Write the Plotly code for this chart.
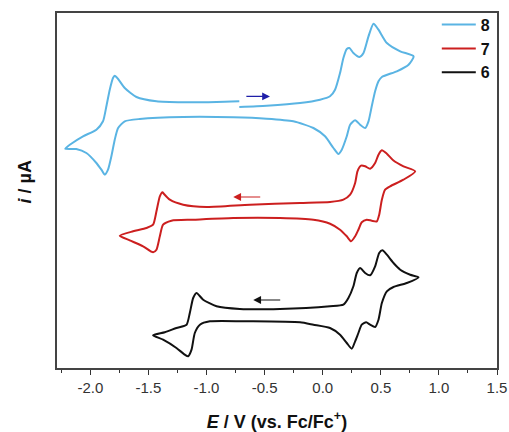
import plotly.graph_objects as go

# ---- data (E in V vs Fc/Fc+, current in arbitrary offset units) ----
E8 = [-0.718, -0.483, -0.195, -0.023, 0.063, 0.106, 0.149, 0.178, 0.207, 0.230, 0.264, 0.316, 0.351, 0.394, 0.437,
      0.480, 0.552, 0.667, 0.782, 0.739, 0.638, 0.509, 0.480, 0.451, 0.422, 0.394, 0.365, 0.322, 0.279, 0.236,
      0.207, 0.164, 0.135, 0.092, 0.020, -0.080, -0.253, -0.483, -0.770, -1.201, -1.575, -1.704, -1.761, -1.790,
      -1.819, -1.848, -1.876, -1.905, -1.948, -2.034, -2.121, -2.216, -2.164, -2.063, -1.948, -1.891, -1.862,
      -1.833, -1.805, -1.790, -1.761, -1.704, -1.603, -1.431, -1.201, -0.914, -0.718]
I8 = [26.1, 26.23, 26.5, 26.83, 27.17, 27.83, 29.5, 31.0, 31.9, 32.0, 31.5, 31.1, 31.5, 33.17, 34.43,
      33.83, 32.5, 31.67, 31.17, 30.33, 29.67, 29.1, 28.67, 27.67, 26.17, 24.67, 24.0, 24.33, 24.77, 24.33,
      23.17, 21.83, 21.4, 22.0, 23.17, 24.0, 24.67, 24.93, 25.07, 25.1, 24.9, 24.67, 24.0, 22.83,
      21.17, 19.83, 19.33, 19.83, 20.5, 21.5, 21.9, 21.93, 22.43, 23.17, 23.83, 24.67, 26.17,
      27.83, 29.0, 29.23, 28.9, 28.0, 27.1, 26.67, 26.57, 26.6, 26.67]

E7 = [0.796, 0.695, 0.609, 0.552, 0.509, 0.480, 0.451, 0.408, 0.365, 0.330, 0.299, 0.279, 0.236, 0.178, 0.063,
      -0.195, -0.626, -1.000, -1.201, -1.316, -1.368, -1.379, -1.402, -1.431, -1.460, -1.517, -1.632, -1.747,
      -1.661, -1.546, -1.460, -1.431, -1.402, -1.374, -1.302, -1.115, -0.770, -0.368, -0.080, 0.063, 0.149,
      0.207, 0.244, 0.279, 0.307, 0.336, 0.379, 0.422, 0.466, 0.486, 0.509, 0.537, 0.580, 0.695, 0.796]
I7 = [19.67, 20.17, 20.75, 21.43, 21.77, 21.33, 20.5, 19.93, 20.17, 20.23, 19.67, 18.5, 17.33, 16.83, 16.6,
      16.5, 16.33, 16.1, 16.33, 16.83, 17.43, 17.57, 17.17, 15.67, 14.33, 14.0, 13.67, 13.23,
      12.77, 12.17, 11.57, 11.83, 13.17, 14.33, 14.73, 14.83, 15.0, 15.0, 14.83, 14.43, 13.83,
      13.17, 12.67, 13.17, 13.83, 14.57, 14.83, 14.73, 14.67, 15.33, 16.83, 17.83, 18.17, 18.83, 19.67]

E6 = [0.825, 0.753, 0.667, 0.609, 0.552, 0.514, 0.486, 0.451, 0.408, 0.365, 0.322, 0.293, 0.264, 0.221, 0.178,
      0.063, -0.368, -0.713, -0.914, -1.029, -1.086, -1.115, -1.144, -1.172, -1.259, -1.359, -1.460, -1.374,
      -1.259, -1.187, -1.158, -1.129, -1.101, -1.057, -0.971, -0.626, -0.195, -0.080, 0.063, 0.149, 0.207,
      0.250, 0.279, 0.307, 0.336, 0.374, 0.408, 0.451, 0.480, 0.509, 0.552, 0.609, 0.724, 0.825]
I6 = [9.07, 9.33, 9.83, 10.5, 11.33, 11.77, 11.5, 10.17, 9.27, 9.5, 10.0, 9.5, 8.17, 7.0, 6.33,
      6.17, 5.9, 5.9, 6.17, 6.83, 7.5, 7.0, 5.5, 4.33, 4.0, 3.57, 3.27, 2.83,
      2.0, 1.33, 1.17, 1.83, 3.5, 4.33, 4.67, 4.67, 4.57, 4.33, 4.0, 3.33, 2.5,
      1.93, 2.67, 3.5, 4.33, 4.57, 4.33, 4.1, 4.83, 6.5, 7.67, 8.1, 8.5, 9.07]

series_names = ["8", "7", "6"]
series_colors = ["#5ab4e3", "#cc1f1f", "#111111"]

# scan direction arrows: (tail E, head E, current)
arrow_tail = [-0.670, -0.525, -0.353]
arrow_head = [-0.454, -0.770, -0.598]
arrow_i = [27.16, 17.1, 6.8]
arrow_colors = ["#1f1fa8", "#cc1f1f", "#111111"]

x_ticks = [-2.0, -1.5, -1.0, -0.5, 0.0, 0.5, 1.0, 1.5]
x_ticklabels = ["-2.0", "-1.5", "-1.0", "-0.5", "0.0", "0.5", "1.0", "1.5"]

fig = go.Figure()
for E, I, name, col in zip([E8, E7, E6], [I8, I7, I6], series_names, series_colors):
    fig.add_trace(go.Scatter(x=E, y=I, mode="lines", name=name,
                             line=dict(color=col, width=2, shape="spline", smoothing=0.6)))

for t, h, yv, c in zip(arrow_tail, arrow_head, arrow_i, arrow_colors):
    fig.add_annotation(x=h, y=yv, ax=t, ay=yv, xref="x", yref="y", axref="x", ayref="y",
                       text="", showarrow=True, arrowhead=2, arrowsize=1.3, arrowwidth=1.2,
                       arrowcolor=c)

fig.add_annotation(text="<b><i>i</i> / µA</b>", xref="paper", yref="paper",
                   x=-0.073, y=0.525, xanchor="center", yanchor="middle",
                   textangle=-90, showarrow=False,
                   font=dict(family="Liberation Sans, Arial", size=18, color="#111"))

fig.update_layout(
    width=509, height=432,
    margin=dict(l=57, r=12, t=13, b=64, autoexpand=False),
    paper_bgcolor="white", plot_bgcolor="white",
    font=dict(family="Liberation Sans, Arial", color="#222"),
    legend=dict(x=0.995, y=1.015, xanchor="right", yanchor="top",
                font=dict(size=16, color="#111", weight="bold"),
                bgcolor="rgba(0,0,0,0)", itemwidth=34, tracegroupgap=0),
    xaxis=dict(range=[-2.287, 1.5], tickvals=x_ticks, ticktext=x_ticklabels,
               automargin=False,
               ticks="outside", ticklen=5, tickwidth=1, tickcolor="#333",
               showline=True, linecolor="#444", linewidth=1.5, mirror=True,
               showgrid=False, zeroline=False, tickfont=dict(size=15, color="#333"),
               minor=dict(dtick=0.25, tick0=0, ticks="outside", ticklen=3, tickcolor="#333"),
               title=dict(text="<b><i>E</i> / V (vs. Fc/Fc<sup>+</sup>)</b>",
                          font=dict(size=18, color="#111"), standoff=21)),
    yaxis=dict(range=[0, 35.5], showticklabels=False, ticks="", automargin=False,
               showline=True, linecolor="#444", linewidth=1.5, mirror=True,
               showgrid=False, zeroline=False),
)

fig.write_html("out.html", config={"displayModeBar": False},
               post_script="document.body.style.margin='0';document.body.style.padding='0';")
